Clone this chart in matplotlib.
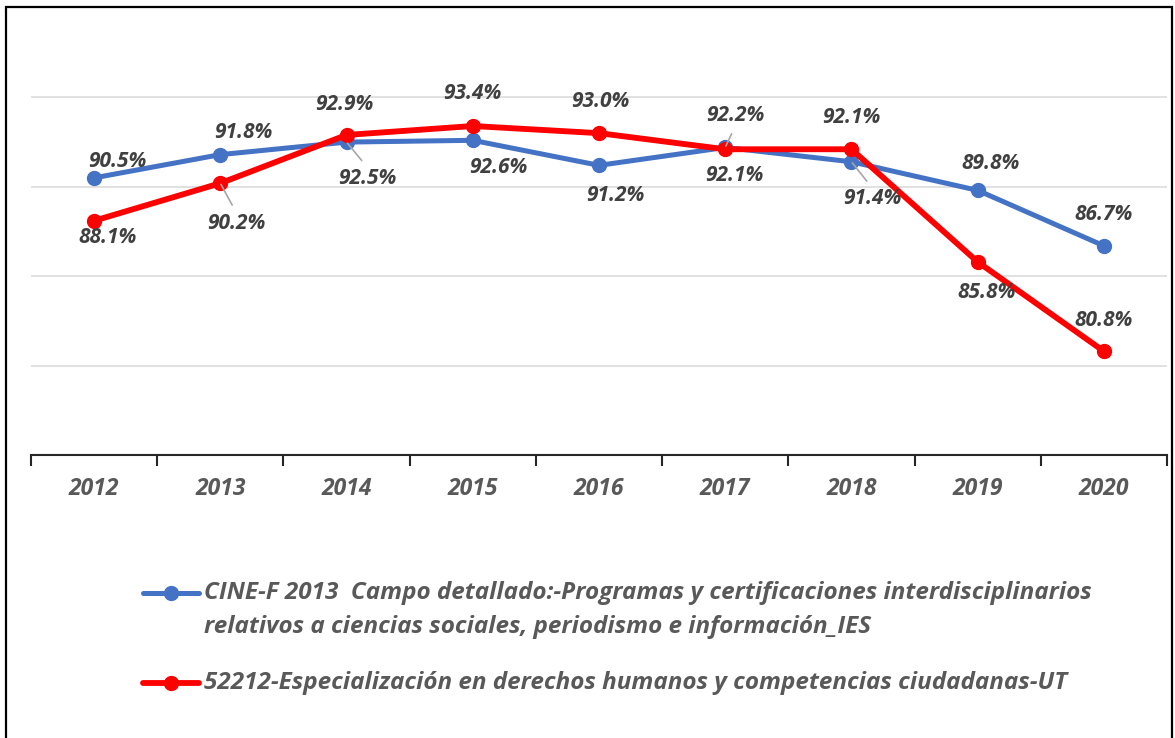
import matplotlib
matplotlib.use("Agg")
import matplotlib.pyplot as plt
from matplotlib.lines import Line2D
from matplotlib.patches import Rectangle

years = ["2012", "2013", "2014", "2015", "2016", "2017", "2018", "2019", "2020"]
cine_values = [90.5, 91.8, 92.5, 92.6, 91.2, 92.2, 91.4, 89.8, 86.7]
ut_values = [88.1, 90.2, 92.9, 93.4, 93.0, 92.1, 92.1, 85.8, 80.8]
cine_label = ("CINE-F 2013  Campo detallado:-Programas y certificaciones interdisciplinarios",
              "relativos a ciencias sociales, periodismo e información_IES")
ut_label = "52212-Especialización en derechos humanos y competencias ciudadanas-UT"

BLUE = "#4472C4"
RED = "#FF0000"
LABEL_C = "#404040"
AXIS_C = "#595959"
FONT = "Open Sans"

# label offsets in pixels (dx, dy) and leader flags
cine_off = [(23, 16.5), (23, 22.5), (21, -36), (26, -27.5), (16, -30.5),
            (10, 32), (21, -37), (13, 27), (0, 31)]
cine_lead = [None, None, (0.5, 1), None, None, (0.5, 0), (0.5, 1), None, None]
ut_off = [(14, -17), (16, -40), (-2, 30), (0, 32.5), (1, 31.5),
          (9, -26), (0, 31.5), (9, -30.5), (0, 30.5)]
ut_lead = [None, (0.5, 1), None, None, None, None, None, None, None]

W, H = 1175, 738
fig = plt.figure(figsize=(W / 100, H / 100), dpi=100)
ax = fig.add_axes([31 / W, 1 - 455 / H, (1167 - 31) / W, (455 - 8) / H])

x = list(range(len(years)))
ax.plot(x, cine_values, color=BLUE, lw=3.6, marker="o", ms=10, zorder=3,
        solid_capstyle="round")
ax.plot(x, ut_values, color=RED, lw=4.2, marker="o", ms=10, zorder=4,
        solid_capstyle="round")

ax.set_xlim(-0.5, len(years) - 0.5)
ax.set_ylim(75, 100)
for gy in [80, 85, 90, 95]:
    ax.axhline(gy, color="#D9D9D9", lw=1.1, zorder=1)

for s in ["top", "right", "left"]:
    ax.spines[s].set_visible(False)
ax.spines["bottom"].set_color("#262626")
ax.spines["bottom"].set_linewidth(1.5)
ax.set_yticks([])
ax.set_xticks([i - 0.5 for i in range(len(years) + 1)], minor=False)
ax.set_xticklabels([])
ax.tick_params(axis="x", direction="out", length=8, width=1.5, color="#262626")
for i, yr in enumerate(years):
    ax.annotate(yr, (i, 75), xytext=(0, -34), textcoords="offset pixels",
                ha="center", va="center", fontsize=16.5, fontweight="bold",
                fontstyle="italic", color=AXIS_C, family=FONT, annotation_clip=False)


def put_labels(vals, offs, leads):
    for i, (v, (dx, dy), ld) in enumerate(zip(vals, offs, leads)):
        kw = {}
        if ld is not None:
            kw["arrowprops"] = dict(arrowstyle="-", color="#A6A6A6", lw=1.2,
                                    relpos=ld, shrinkA=4, shrinkB=1)
        ax.annotate(f"{v:.1f}%", (i, v), xytext=(dx, dy), textcoords="offset pixels",
                    ha="center", va="center", fontsize=15, fontweight="bold",
                    fontstyle="italic", color=LABEL_C, family=FONT, zorder=5, **kw)


put_labels(cine_values, cine_off, cine_lead)
put_labels(ut_values, ut_off, ut_lead)

# legend
def legend_entry(y, color, lw, lines):
    yf = 1 - y / H
    fig.add_artist(Line2D([143 / W, 199 / W], [yf, yf], color=color, lw=lw,
                          solid_capstyle="round"))
    fig.add_artist(Line2D([171 / W], [yf], color=color, marker="o", ms=10, lw=0))
    for k, t in enumerate(lines):
        fig.text(204 / W, 1 - (y + 34 * k) / H, t, ha="left", va="center",
                 fontsize=17.5, fontweight="bold", fontstyle="italic",
                 color=AXIS_C, family=FONT)

legend_entry(593, BLUE, 3.6, cine_label)
legend_entry(683, RED, 4.2, [ut_label])

fig.add_artist(Rectangle((6 / W, -0.01), (1172 - 6) / W, 1 - 7 / H + 0.01,
                         transform=fig.transFigure, fill=False, ec="black", lw=1.6))

fig.savefig("out.png", dpi=100)
